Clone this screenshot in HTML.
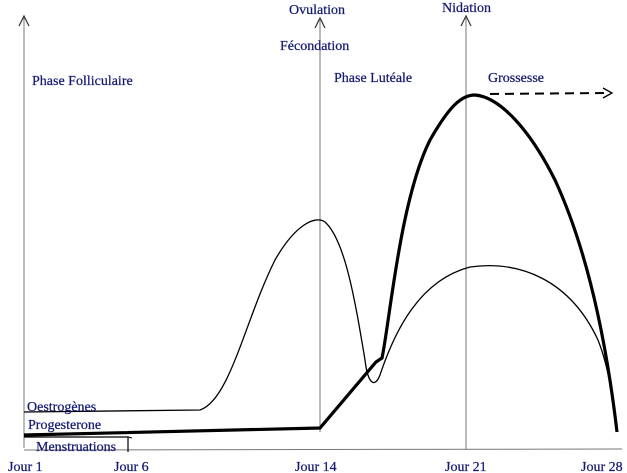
<!DOCTYPE html>
<html><head><meta charset="utf-8"><style>
body{margin:0;background:#fff}
svg{display:block}
text{font-family:"Liberation Serif",serif;font-size:14px;fill:#141a70;stroke:#141a70;stroke-width:0.25}
</style></head><body>
<svg width="627" height="473" viewBox="0 0 627 473">
<g stroke="#777" stroke-width="1" fill="none">
<line x1="24" y1="16" x2="24" y2="448"/>
<line x1="24" y1="450" x2="622" y2="449"/>
<line x1="320" y1="20" x2="320" y2="432"/>
<line x1="466" y1="18" x2="466" y2="450"/>
</g>
<g stroke="#333" stroke-width="1.2" fill="none">
<polyline points="19,26 24,16 29,26"/>
<polyline points="315,28 320,18 325,28"/>
<polyline points="461,26 466,16 471,26"/>
</g>
<path d="M24,412 L200,410 C230,400 245,320 275,260 C295,225 315,215 325,222 C345,240 355,300 365,360 C368,385 375,388 380,375 C395,330 420,280 470,267 C520,260 570,280 598,340 C610,370 612,400 617,430" fill="none" stroke="#000" stroke-width="1.3"/>
<path d="M24,435 L320,428 L376,362 L382,358 C390,320 400,200 430,140 C450,105 462,95 475,95 C500,97 530,130 555,180 C585,245 605,330 617,432" fill="none" stroke="#000" stroke-width="3.2"/>
<line x1="490" y1="94" x2="608" y2="93" stroke="#000" stroke-width="2" stroke-dasharray="9,6"/>
<polyline points="603,88 612,93 603,98" fill="none" stroke="#000" stroke-width="1.3"/>
<path d="M24,437 L128,437 L128,452" fill="none" stroke="#000" stroke-width="1.2"/>
<line x1="128" y1="437" x2="132" y2="438" stroke="#000"/>
<text x="32" y="85">Phase Folliculaire</text>
<text x="289" y="14">Ovulation</text>
<text x="280" y="50">Fécondation</text>
<text x="334" y="82">Phase Lutéale</text>
<text x="442" y="12">Nidation</text>
<text x="488" y="82">Grossesse</text>
<text x="27" y="411">Oestrogènes</text>
<text x="28" y="429">Progesterone</text>
<text x="36" y="451">Menstruations</text>
<text x="8" y="471">Jour 1</text>
<text x="114" y="471">Jour 6</text>
<text x="295" y="471">Jour 14</text>
<text x="445" y="471">Jour 21</text>
<text x="581" y="471">Jour 28</text>
</svg>
</body></html>
